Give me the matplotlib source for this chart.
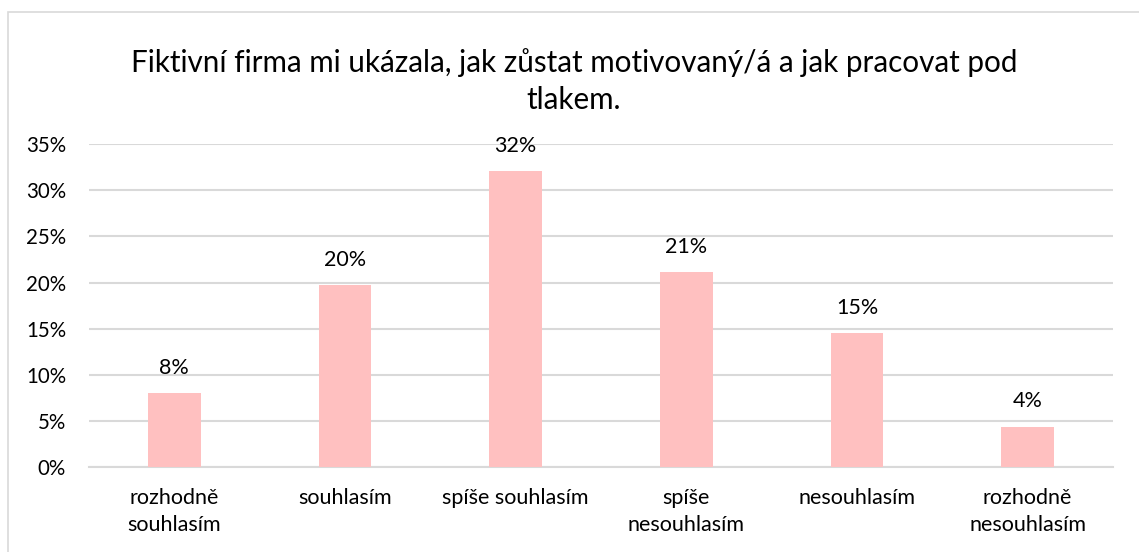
import matplotlib.pyplot as plt
from matplotlib.patches import Rectangle
from matplotlib.ticker import FuncFormatter

# ── Data ──────────────────────────────────────────────────────────────────────
categories = ['rozhodně\nsouhlasím', 'souhlasím', 'spíše souhlasím',
              'spíše\nnesouhlasím', 'nesouhlasím', 'rozhodně\nnesouhlasím']
values = [0.080, 0.197, 0.321, 0.211, 0.145, 0.044]
labels = ['8%', '20%', '32%', '21%', '15%', '4%']
title = 'Fiktivní firma mi ukázala, jak zůstat motivovaný/á a jak pracovat pod\ntlakem.'

plt.rcParams['font.family'] = ['Lato', 'DejaVu Sans']

fig = plt.figure(figsize=(11.39, 5.52), dpi=100)
ax = fig.add_axes([89/1139, 1 - 467.3/552, (1113 - 89)/1139, (467.3 - 144)/552])

# chart border (light gray frame, cut by the image edge on right/bottom)
fig.patches.append(Rectangle((8/1139, -0.1), 1.2, 1 - 12/552 + 0.1,
                             transform=fig.transFigure, fill=False,
                             edgecolor='#D9D9D9', lw=1.2, zorder=0))

x = range(len(categories))
ax.bar(x, values, width=0.31, color='#FFC0C0', zorder=3)
for xi, v, lab in zip(x, values, labels):
    ax.annotate(lab, (xi, v), xytext=(0, 11), textcoords='offset points',
                ha='center', va='bottom', fontsize=15.5, color='#000000')

ax.set_xlim(-0.5, len(categories) - 0.5)
ax.set_ylim(0, 0.35)
ax.set_yticks([i * 0.05 for i in range(8)])
ax.yaxis.set_major_formatter(FuncFormatter(lambda v, _: f'{v*100:.0f}%'))
ax.set_xticks(list(x))
ax.set_xticklabels(categories, fontsize=15.5, linespacing=1.45)
ax.tick_params(axis='y', labelsize=14.8, length=0, pad=16.5)
ax.tick_params(axis='x', length=0, pad=15)
ax.grid(axis='y', color='#D9D9D9', lw=1.5, zorder=0)
for s in ['top', 'right', 'left']:
    ax.spines[s].set_visible(False)
ax.spines['bottom'].set_color('#D9D9D9')
ax.spines['bottom'].set_linewidth(1.5)

fig.text(574/1139, 1 - 48/552, title, ha='center', va='top', fontsize=21.3,
         linespacing=1.4)

fig.savefig('out.png', dpi=100)
